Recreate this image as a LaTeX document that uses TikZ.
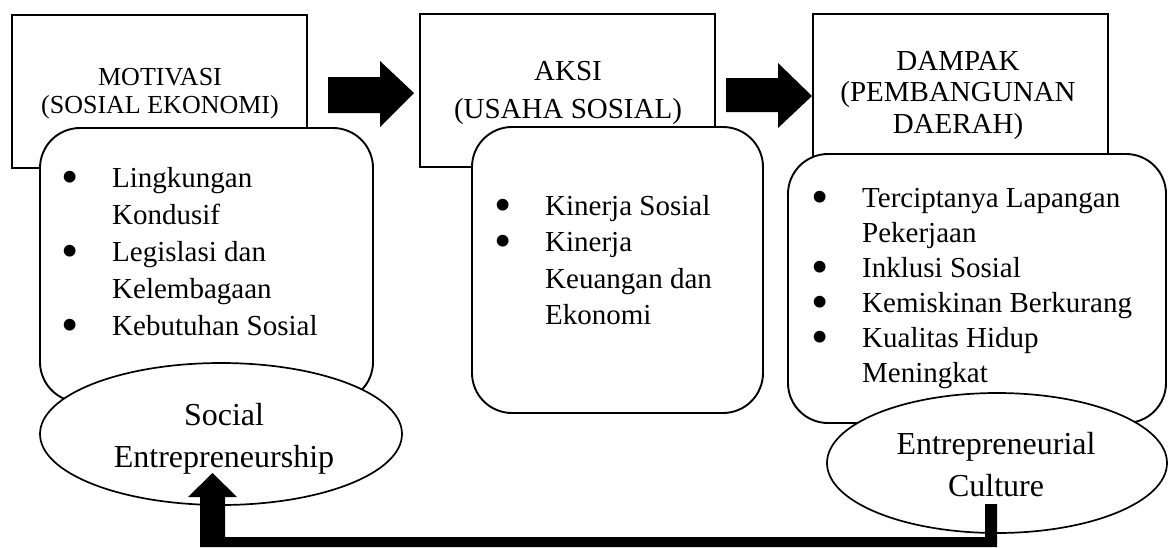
\documentclass[tikz,border=0pt]{standalone}
\usepackage{fontspec}
\setmainfont{Liberation Serif}
\usetikzlibrary{shapes.geometric}
\newcommand\bigbul{\hspace*{-3.5pt}\smash{\raisebox{-6pt}{\scalebox{1.7}{\textbullet}}}}
\tikzset{
  headbox/.style={draw=black, line width=1.8pt, fill=white, rectangle, inner sep=0pt},
  listbox/.style={draw=black, line width=1.9pt, fill=white, rectangle, rounded corners=40pt, inner sep=0pt},
  oval/.style={draw=black, line width=1.7pt, fill=white, ellipse, inner sep=0pt},
  titletext/.style={inner sep=0pt, text=black},
  listtext/.style={inner sep=0pt, text=black, font=\fontsize{29}{37}\selectfont},
  ovaltext/.style={inner sep=0pt, text=black, font=\fontsize{32}{42.5}\selectfont},
  blockarrow/.style={fill=black, draw=none}
}
\begin{document}
\begin{tikzpicture}[x=1pt,y=-1pt]
\useasboundingbox[fill=white] (0,0) rectangle (1168,547);

% header boxes
\node[headbox, minimum width=295pt, minimum height=153pt] (b1) at (159.5,91.5) {};
\node[headbox, minimum width=295pt, minimum height=153pt] (b2) at (567.5,90.5) {};
\node[headbox, minimum width=295pt, minimum height=160pt] (b3) at (960.5,94) {};

% titles
\node[titletext, anchor=base, font=\fontsize{26}{28}\selectfont] (t1) at (160,85)
  {\begin{tabular}[t]{@{}c@{}}MOTIVASI\\(SOSIAL EKONOMI)\end{tabular}};
\node[titletext, anchor=base, font=\fontsize{29}{38}\selectfont] (t2) at (568,80)
  {\begin{tabular}[t]{@{}c@{}}AKSI\\(USAHA SOSIAL)\end{tabular}};
\node[titletext, anchor=base, font=\fontsize{29}{31.5}\selectfont] (t3) at (958,70)
  {\begin{tabular}[t]{@{}c@{}}DAMPAK\\(PEMBANGUNAN\\DAERAH)\end{tabular}};

% rounded list boxes
\node[listbox, minimum width=333pt, minimum height=274pt] (r1) at (206.5,265) {};
\node[listbox, minimum width=291pt, minimum height=286pt] (r2) at (617.5,270) {};
\node[listbox, minimum width=378pt, minimum height=269pt] (r3) at (977,288.5) {};

% ellipses
\node[oval, minimum width=362pt, minimum height=142pt] (e1) at (221,434) {};
\node[oval, minimum width=340pt, minimum height=140pt] (e2) at (997,463) {};

% list texts
\node[listtext, anchor=base west] (l1) at (65,187)
  {\begin{tabular}[t]{@{}p{47pt}@{}l@{}}
  \bigbul & Lingkungan\\ & Kondusif\\
  \bigbul & Legislasi dan\\ & Kelembagaan\\
  \bigbul & Kebutuhan Sosial\end{tabular}};
\node[listtext, anchor=base west, font=\fontsize{29}{36.5}\selectfont] (l2) at (498,215)
  {\begin{tabular}[t]{@{}p{47pt}@{}l@{}}
  \bigbul & Kinerja Sosial\\
  \bigbul & Kinerja\\ & Keuangan dan\\ & Ekonomi\end{tabular}};
\node[listtext, anchor=base west, font=\fontsize{29}{35}\selectfont] (l3) at (815,207)
  {\begin{tabular}[t]{@{}p{47pt}@{}l@{}}
  \bigbul & Terciptanya Lapangan\\ & Pekerjaan\\
  \bigbul & Inklusi Sosial\\
  \bigbul & Kemiskinan Berkurang\\
  \bigbul & Kualitas Hidup\\ & Meningkat\end{tabular}};

% ellipse texts
\node[ovaltext, anchor=base] (o1) at (224,425)
  {\begin{tabular}[t]{@{}c@{}}Social\\Entrepreneurship\end{tabular}};
\node[ovaltext, anchor=base] (o2) at (996,454)
  {\begin{tabular}[t]{@{}c@{}}Entrepreneurial\\Culture\end{tabular}};

% block arrows between header boxes
\coordinate (a1t) at (414,93);
\fill[blockarrow] (328,77) -- (380,77) -- (380,61) -- (a1t) -- (380,127) -- (380,113) -- (328,113) -- cycle;
\coordinate (a2t) at (812,96);
\fill[blockarrow] (726,78) -- (778,78) -- (778,63) -- (a2t) -- (778,128) -- (778,112) -- (726,112) -- cycle;

% feedback bent arrow from e2 to e1
\coordinate (fbt) at (212.5,473);
\fill[blockarrow] (985,504) -- (997,504) -- (997,547) -- (200,547) -- (200,497) -- (188,497)
  -- (fbt) -- (237,497) -- (225,497) -- (225,537) -- (985,537) -- cycle;
\end{tikzpicture}
\end{document}
